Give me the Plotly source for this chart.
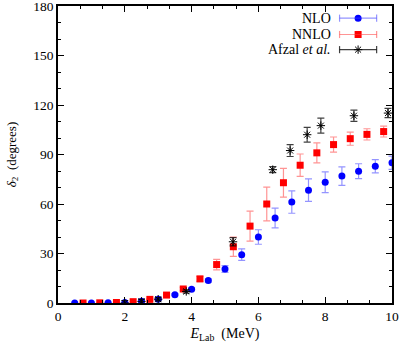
import plotly.graph_objects as go

# NLO phase shifts (blue circles)
nlo_x = [0.5, 1.0, 1.5, 2.0, 2.5, 3.0, 3.5, 4.0, 4.5, 5.0,
         5.5, 6.0, 6.5, 7.0, 7.5, 8.0, 8.5, 9.0, 9.5, 10.0]
nlo_y = [0.0, 0.0, 0.1, 0.3, 1.0, 2.3, 5.0, 8.4, 13.6, 20.6,
         29.3, 40.0, 51.5, 61.2, 68.4, 73.2, 76.9, 79.9, 82.9, 85.0]
nlo_err = [0.0, 0.0, 0.0, 0.0, 0.2, 0.3, 0.5, 0.8, 1.0, 2.0,
           3.5, 4.4, 6.0, 6.8, 6.8, 6.3, 5.6, 4.5, 4.0, 4.0]

# NNLO phase shifts (red squares)
nnlo_x = [0.75, 1.25, 1.75, 2.25, 2.75, 3.25, 3.75, 4.25, 4.75, 5.25,
          5.75, 6.25, 6.75, 7.25, 7.75, 8.25, 8.75, 9.25, 9.75]
nnlo_y = [0.0, 0.1, 0.3, 0.8, 2.2, 4.8, 8.5, 14.6, 23.3, 34.1,
          46.6, 60.0, 72.9, 83.5, 91.0, 96.0, 99.6, 102.2, 103.9]
nnlo_err = [0.0, 0.0, 0.0, 0.0, 0.3, 0.5, 1.0, 1.5, 3.2, 5.8,
            9.1, 10.2, 8.7, 6.8, 6.1, 4.6, 4.0, 3.4, 3.3]

# Afzal et al. data (black asterisks)
afz_x = [2.0, 2.5, 3.0, 3.84, 5.24, 6.43, 6.95, 7.46, 7.87, 8.86, 9.88]
afz_y = [0.0, 1.0, 2.3, 7.0, 37.1, 80.8, 92.4, 102.0, 107.5, 113.5, 115.1]
afz_err = [1.5, 1.2, 1.0, 1.0, 2.5, 1.8, 3.6, 4.5, 4.5, 3.4, 2.8]

x_ticks = [0, 2, 4, 6, 8, 10]
y_ticks = [0, 30, 60, 90, 120, 150, 180]

FONT = "Liberation Serif, Times New Roman, serif"

fig = go.Figure()

fig.add_trace(go.Scatter(
    x=nlo_x, y=nlo_y, mode="markers", name="NLO",
    marker=dict(symbol="circle", size=7, color="#0000ff"),
    error_y=dict(type="data", array=nlo_err, color="rgba(60,60,255,0.55)",
                 thickness=1.2, width=3.5),
))
fig.add_trace(go.Scatter(
    x=nnlo_x, y=nnlo_y, mode="markers", name="NNLO",
    marker=dict(symbol="square", size=7, color="#ff0000"),
    error_y=dict(type="data", array=nnlo_err, color="rgba(255,60,60,0.55)",
                 thickness=1.2, width=3.5),
))
fig.add_trace(go.Scatter(
    x=afz_x, y=afz_y, mode="markers", name="Afzal et al.",
    marker=dict(symbol="asterisk-open", size=7, color="black",
                line=dict(color="black", width=1)),
    error_y=dict(type="data", array=afz_err, color="rgba(0,0,0,0.75)",
                 thickness=1.2, width=3.5),
))

# hand-made legend (text on the left, error-bar sample on the right)
leg_names = ["NLO", "NNLO", "Afzal <i>et al.</i>"]
leg_colors = ["rgba(60,60,255,0.55)", "rgba(255,60,60,0.55)", "rgba(0,0,0,0.75)"]
leg_mcolors = ["#0000ff", "#ff0000", "black"]
leg_symbols = ["circle", "square", "asterisk-open"]
leg_y = [0.959, 0.904, 0.853]
lx0, lx1, lxm = 0.843, 0.954, 0.8985

for name, c, mc, sym, yy in zip(leg_names, leg_colors, leg_mcolors, leg_symbols, leg_y):
    fig.add_annotation(x=0.822, y=yy, xref="paper", yref="paper", text=name,
                       showarrow=False, xanchor="right", yanchor="middle",
                       font=dict(family=FONT, size=14, color="black"))
    fig.add_shape(type="line", xref="paper", yref="paper", x0=lx0, x1=lx1,
                  y0=yy, y1=yy, line=dict(color=c, width=1.2))
    for xe in (lx0, lx1):
        fig.add_shape(type="line", xref="paper", yref="paper", x0=xe, x1=xe,
                      y0=yy - 0.012, y1=yy + 0.012, line=dict(color=c, width=1.2))
    fig.add_trace(go.Scatter(
        x=[lxm], y=[yy], xaxis="x2", yaxis="y2", mode="markers",
        showlegend=False, hoverinfo="skip",
        marker=dict(symbol=sym, size=7, color=mc,
                    line=dict(color=mc, width=1 if sym == "asterisk-open" else 0)),
    ))

fig.update_layout(
    width=399, height=343,
    margin=dict(l=58, r=7, t=6, b=40),
    paper_bgcolor="white", plot_bgcolor="white",
    showlegend=False,
    font=dict(family=FONT, size=14, color="black"),
    xaxis=dict(
        range=[0, 10], tickvals=x_ticks, ticks="inside", ticklen=6,
        tickwidth=1, tickcolor="black", showgrid=False, zeroline=False,
        showline=True, linecolor="black", linewidth=1.5, mirror="ticks",
        minor=dict(dtick=2 / 3, tick0=0, ticks="inside", ticklen=3,
                   tickcolor="black", showgrid=False),
        title=dict(text="<i>E</i><sub>Lab</sub>  (MeV)", standoff=6,
                   font=dict(family=FONT, size=14)),
        tickfont=dict(family=FONT, size=13.5),
        ticklabeloverflow="allow", automargin=False,
    ),
    yaxis=dict(
        range=[0, 180], tickvals=y_ticks, ticks="inside", ticklen=6,
        tickwidth=1, tickcolor="black", showgrid=False, zeroline=False,
        showline=True, linecolor="black", linewidth=1.5, mirror="ticks",
        minor=dict(dtick=10, tick0=0, ticks="inside", ticklen=3,
                   tickcolor="black", showgrid=False),
        title=dict(text="<i>δ</i><sub>2</sub>  (degrees)", standoff=14,
                   font=dict(family=FONT, size=13)),
        tickfont=dict(family=FONT, size=13.5),
        ticklabeloverflow="allow", automargin=False,
    ),
    xaxis2=dict(range=[0, 1], overlaying="x", visible=False, fixedrange=True),
    yaxis2=dict(range=[0, 1], overlaying="y", visible=False, fixedrange=True),
)

fig.write_html(
    "out.html",
    config={"displayModeBar": False},
    post_script="document.body.style.margin='0';document.body.style.overflow='hidden';",
)
